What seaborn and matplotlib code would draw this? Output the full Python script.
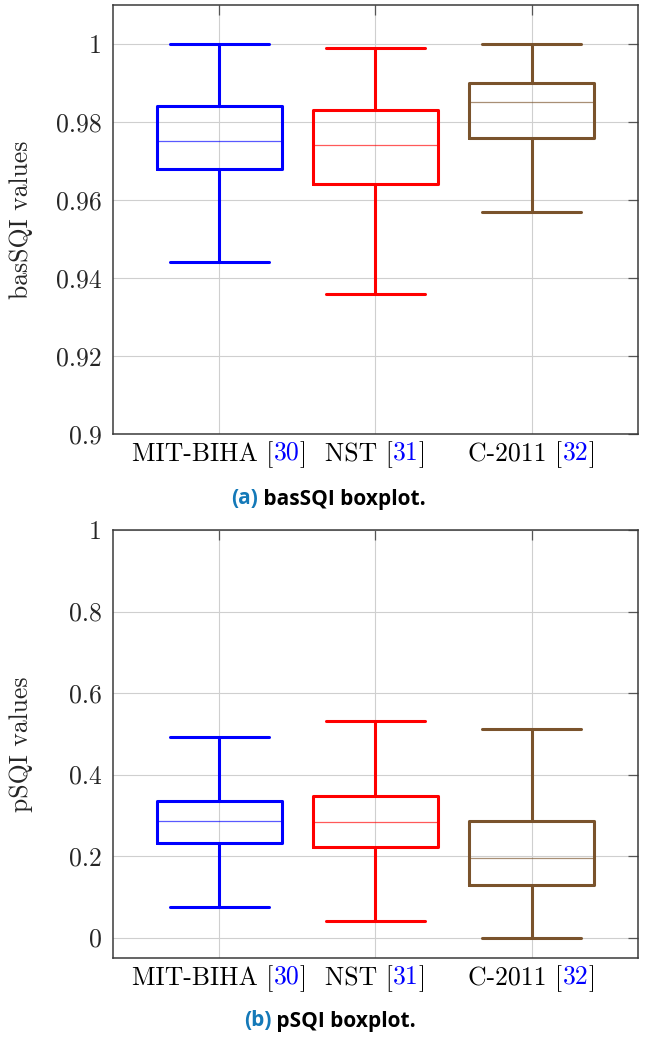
import numpy as np
import pandas as pd
import matplotlib
matplotlib.use("Agg")
import matplotlib.pyplot as plt
import matplotlib.transforms as mtransforms
import seaborn as sns

# Databases compared and their reference numbers
datasets = ["MIT-BIHA", "NST", "C-2011"]
refs = ["30", "31", "32"]
colors = ["#0000ff", "#ff0000", "#7a532c"]

# basSQI five-number summaries (lower whisker, Q1, median, Q3, upper whisker)
bas_low = [0.944, 0.936, 0.957]
bas_q1 = [0.968, 0.964, 0.976]
bas_med = [0.975, 0.974, 0.985]
bas_q3 = [0.984, 0.983, 0.990]
bas_high = [1.000, 0.999, 1.000]

# pSQI five-number summaries
p_low = [0.076, 0.040, 0.000]
p_q1 = [0.232, 0.223, 0.130]
p_med = [0.285, 0.283, 0.195]
p_q3 = [0.336, 0.347, 0.287]
p_high = [0.492, 0.531, 0.511]

bas_ticks = [0.9, 0.92, 0.94, 0.96, 0.98, 1.0]
bas_ticklabels = ["0.9", "0.92", "0.94", "0.96", "0.98", "1"]
p_ticks = [0.0, 0.2, 0.4, 0.6, 0.8, 1.0]
p_ticklabels = ["0", "0.2", "0.4", "0.6", "0.8", "1"]

SERIF = "cmr10"
FS = 18.5
CAPTION_FONT = ["Open Sans", "DejaVu Sans"]
CAPTION_BLUE = "#1479b8"

sns.set_style("white")
plt.rcParams["font.family"] = [SERIF, "DejaVu Serif"]
plt.rcParams["axes.formatter.use_mathtext"] = True


def summary_frame(low, q1, med, q3, high):
    rows = []
    for name, vals in zip(datasets, zip(low, q1, med, q3, high)):
        for v in vals:
            rows.append({"dataset": name, "value": v})
    return pd.DataFrame(rows)


fig = plt.figure(figsize=(6.46, 10.38), dpi=100)
ax_top = fig.add_axes([0.1749, 0.5819, 0.8127, 0.4133])
ax_bot = fig.add_axes([0.1749, 0.0771, 0.8127, 0.4123])

panels = [
    (ax_top, summary_frame(bas_low, bas_q1, bas_med, bas_q3, bas_high),
     (0.9, 1.01), bas_ticks, bas_ticklabels, "basSQI values"),
    (ax_bot, summary_frame(p_low, p_q1, p_med, p_q3, p_high),
     (-0.05, 1.0), p_ticks, p_ticklabels, "pSQI values"),
]

for ax, df, ylim, ticks, ticklabels, ylabel in panels:
    sns.boxplot(
        data=df, x="dataset", y="value", hue="dataset",
        palette=colors, saturation=1, fill=False, legend=False,
        whis=(0, 100), width=0.8, linewidth=2.2, capwidths=0.634,
        medianprops={"linewidth": 0.9, "alpha": 0.65},
        showfliers=False, ax=ax,
    )
    ax.set_xlim(-0.68, 2.68)
    ax.set_ylim(*ylim)
    ax.set_yticks(ticks)
    ax.set_yticklabels(ticklabels, fontsize=FS)
    ax.set_xticks(range(len(datasets)))
    ax.set_xticklabels([""] * len(datasets))
    ax.set_xlabel("")
    ax.set_ylabel(ylabel, fontsize=FS)
    ax.yaxis.set_label_coords(-0.153, 0.5)
    ax.grid(True, color="#cfcfcf", linewidth=0.8)
    ax.set_axisbelow(True)
    ax.tick_params(direction="in", length=7, width=0.9, color="#555555",
                   top=True, right=True, pad=8)
    for sp in ax.spines.values():
        sp.set_visible(True)
        sp.set_color("#3a3a3a")
        sp.set_linewidth(1.1)

fig.canvas.draw()
renderer = fig.canvas.get_renderer()


def draw_parts(base_transform, x, y, parts, dy=0.0, va="top", **font):
    widths = []
    for s, _ in parts:
        t = fig.text(0, 0, s, **font)
        widths.append(t.get_window_extent(renderer).width)
        t.remove()
    offset = -sum(widths) / 2.0
    for (s, c), w in zip(parts, widths):
        tr = mtransforms.offset_copy(base_transform, fig=fig, x=offset, y=dy,
                                     units="dots")
        fig.text(x, y, s, color=c, transform=tr, ha="left", va=va, **font)
        offset += w


# Category labels with coloured citation numbers
for ax in (ax_top, ax_bot):
    tr = mtransforms.blended_transform_factory(ax.transData, ax.transAxes)
    for i, (name, ref) in enumerate(zip(datasets, refs)):
        draw_parts(tr, i, 0.0,
                   [(name + " [", "black"), (ref, "#0000ff"), ("]", "black")],
                   dy=-7, va="top", fontsize=FS, family=[SERIF, "DejaVu Serif"])

# Sub-figure captions
draw_parts(fig.transFigure, 0.508, 1 - 499 / 1038,
           [("(a)", CAPTION_BLUE), (" basSQI boxplot.", "black")],
           va="center", fontsize=15, fontweight="bold", family=CAPTION_FONT)
draw_parts(fig.transFigure, 0.511, 1 - 1021 / 1038,
           [("(b)", CAPTION_BLUE), (" pSQI boxplot.", "black")],
           va="center", fontsize=15, fontweight="bold", family=CAPTION_FONT)

fig.savefig("out.png", dpi=100)
